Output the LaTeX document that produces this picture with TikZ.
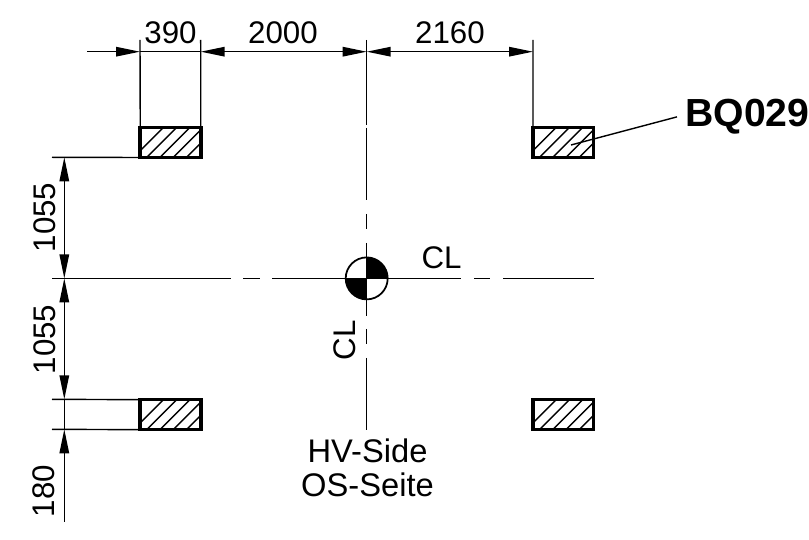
\documentclass[tikz,border=0pt]{standalone}
\usepackage{fontspec}
\setmainfont{Liberation Sans}
\usetikzlibrary{arrows.meta}

\tikzset{
	thinline/.style={line width=0.8pt},
	dimline/.style={thinline, {Triangle[length=0.48cm,width=0.19cm]}-{Triangle[length=0.48cm,width=0.19cm]}},
	dimhead/.style={thinline, -{Triangle[length=0.48cm,width=0.19cm]}},
	dimtext/.style={font=\fontsize{17.8}{20}\selectfont, inner sep=0pt},
	sidetext/.style={font=\fontsize{18.6}{20}\selectfont, inner sep=0pt, anchor=base},
	hatchbox/.style={draw, line width=2pt, minimum width=1.21cm, minimum height=0.60cm, inner sep=0pt, outer sep=0pt,
		path picture={
			\foreach \k in {-39, -25.8, -12.5, 0.7, 14, 27.3}
				\draw[thinline] ([xshift=\k*0.02cm, yshift=-0.34cm]path picture bounding box.center) -- ++(45:1.3cm);
		}},
}

\begin{document}
\begin{tikzpicture}[x=0.02cm, y=-0.02cm]
	\useasboundingbox (0, 0) rectangle (809, 540);

	%Hatched boxes
	\node[hatchbox] (boxTL) at (170.5, 142.5) {};
	\node[hatchbox] (boxTR) at (563.2, 142.5) {};
	\node[hatchbox] (boxBL) at (170.5, 414.7) {};
	\node[hatchbox] (boxBR) at (563.2, 414.7) {};

	%Centre lines
	\foreach \a/\b in {52/231, 243/260, 272/461, 474/490, 503/594}
		\draw[thinline] (\a, 278.4) -- (\b, 278.4);
	\foreach \a/\b in {40/125, 128/200.5, 214/229, 243/316, 329/344, 358/430}
		\draw[thinline] (366.7, \a) -- (366.7, \b);

	%Centre mark
	\node[circle, draw, line width=1pt, fill=white, minimum size=0.84cm, inner sep=0pt, outer sep=0pt,
		path picture={
			\fill[black] (path picture bounding box.center) rectangle (path picture bounding box.north east);
			\fill[black] (path picture bounding box.center) rectangle (path picture bounding box.south west);
		}] (mark) at (366.7, 278.4) {};
	\draw[thinline] (mark.north) -- (mark.south);
	\draw[thinline] (mark.west) -- (mark.east);

	%Extension lines
	\coordinate (extA) at (140, 40);
	\coordinate (extB) at (200.7, 40);
	\coordinate (extC) at (533, 40);
	\coordinate (extD) at (52, 157.3);
	\coordinate (extE) at (52, 399.3);
	\coordinate (extF) at (52, 429.3);
	\draw[thinline] (extA) -- (boxTL.north west);
	\draw[thinline] (extB) -- (boxTL.north east);
	\draw[thinline] (extC) -- (boxTR.north west);
	\draw[thinline] (extD) -- (boxTL.south west);
	\draw[thinline] (extE) -- (boxBL.north west);
	\draw[thinline] (extF) -- (boxBL.south west);

	%Top dimensions
	\coordinate (topStart) at (87, 51.7);
	\coordinate (topA) at (140, 51.7);
	\coordinate (topB) at (200.7, 51.7);
	\coordinate (topC) at (366.7, 51.7);
	\coordinate (topD) at (533, 51.7);
	\draw[dimhead] (topStart) -- (topA);
	\draw[thinline] (topA) -- (topB);
	\draw[dimline] (topB) -- (topC);
	\draw[dimline] (topC) -- (topD);
	\node[dimtext] (dimA) at (170.5, 33) {390};
	\node[dimtext] (dimB) at (283, 33) {2000};
	\node[dimtext] (dimC) at (450, 33) {2160};

	%Left dimensions
	\coordinate (leftA) at (64.3, 157.3);
	\coordinate (leftB) at (64.3, 278.4);
	\coordinate (leftC) at (64.3, 399.3);
	\coordinate (leftD) at (64.3, 429.3);
	\coordinate (leftEnd) at (64.3, 522);
	\draw[dimline] (leftA) -- (leftB);
	\draw[dimline] (leftB) -- (leftC);
	\draw[thinline] (leftC) -- (leftD);
	\draw[dimhead] (leftEnd) -- (leftD);
	\node[dimtext, rotate=90] (dimD) at (45, 217.5) {1055};
	\node[dimtext, rotate=90] (dimE) at (45, 339.5) {1055};
	\node[dimtext, rotate=90] (dimF) at (44, 491) {180};

	%Labels
	\node[dimtext] (clH) at (441.5, 257.5) {CL};
	\node[dimtext, rotate=90] (clV) at (345, 340.5) {CL};
	\node[sidetext] (hvside) at (367.5, 463) {HV-Side};
	\node[sidetext] (osseite) at (367.5, 497) {OS-Seite};

	%Part label
	\coordinate (leaderEnd) at (571, 145);
	\node[anchor=base west, font=\fontsize{22.3}{24}\bfseries, inner xsep=0.16cm, inner ysep=0pt] (bq) at (677, 126.7) {BQ029};
	\draw[thinline] (bq.west) -- (leaderEnd);
\end{tikzpicture}
\end{document}
